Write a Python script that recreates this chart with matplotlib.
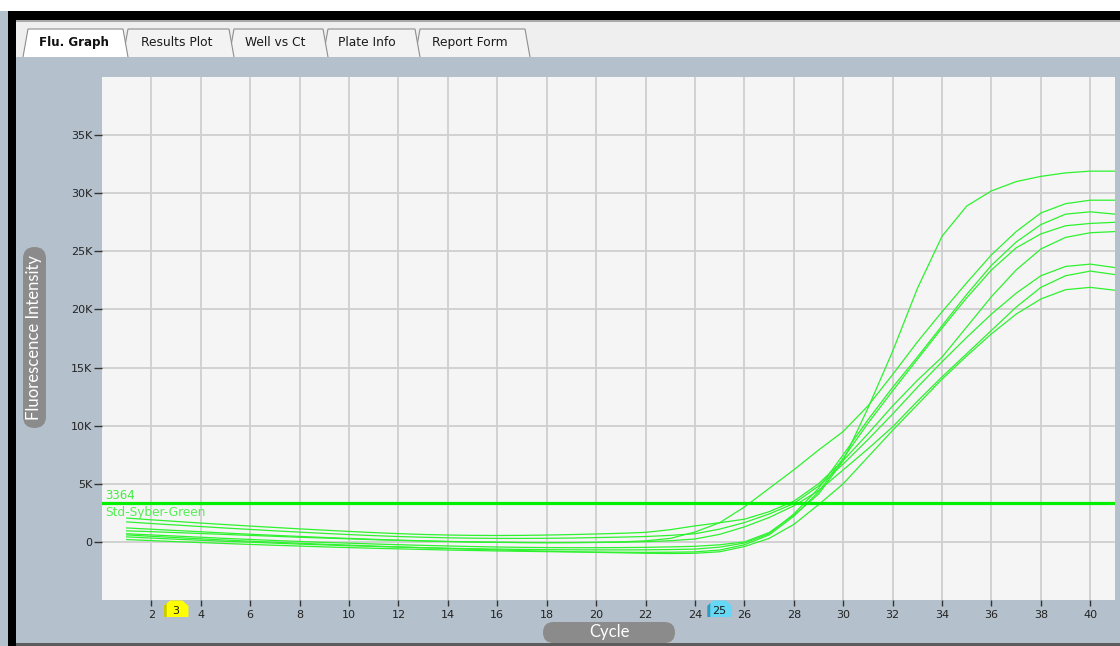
import matplotlib
matplotlib.use("Agg")
import matplotlib.pyplot as plt
from matplotlib.patches import Rectangle, Polygon, FancyBboxPatch
from matplotlib import transforms

W, H = 1120, 646

# ---- amplification data (fluorescence per cycle) ----
cycles = list(range(1, 42))

well_a = [700, 600, 500, 400, 300, 210, 120, 40, -40, -110, -180, -240, -300, -350,
          -400, -440, -470, -490, -500, -500, -490, -470, -430, -380, -250, 0, 800,
          2300, 4100, 7000, 11500, 16400, 21800, 26300, 28900, 30200, 31000, 31450,
          31750, 31900, 31900]
well_b = [950, 880, 800, 720, 640, 560, 480, 400, 330, 260, 190, 130, 80, 30,
          -10, -40, -60, -70, -60, -40, 0, 90, 300, 850, 1650, 3000, 4600,
          6200, 7900, 9500, 11700, 14400, 17200, 19800, 22300, 24700, 26700, 28300,
          29100, 29400, 29400]
well_c = [430, 330, 230, 140, 50, -30, -110, -190, -260, -330, -390, -450, -500, -550,
          -590, -620, -650, -670, -680, -690, -690, -680, -660, -620, -450, -100, 700,
          2400, 4600, 7500, 10500, 13300, 15900, 18600, 21300, 23800, 25800, 27300,
          28200, 28400, 28200]
well_d = [200, 110, 20, -60, -140, -220, -290, -360, -430, -490, -550, -600, -650, -700,
          -740, -780, -810, -840, -860, -880, -890, -900, -890, -860, -700, -250, 600,
          2200, 4300, 7200, 10200, 13000, 15700, 18400, 21000, 23400, 25300, 26500,
          27200, 27400, 27500]
well_e = [2050, 1900, 1760, 1620, 1490, 1360, 1240, 1120, 1010, 900, 800, 710, 640, 590,
          560, 550, 560, 590, 630, 680, 740, 820, 1050, 1376, 1650, 1950, 2600,
          3500, 5000, 7000, 9300, 11700, 13900, 15900, 18500, 21100, 23400, 25200,
          26200, 26600, 26700]
well_f = [1720, 1580, 1450, 1320, 1190, 1070, 950, 840, 730, 630, 540, 460, 400, 350,
          320, 300, 300, 310, 330, 370, 410, 460, 560, 700, 1100, 1660, 2400,
          3300, 4800, 6700, 8800, 11000, 13300, 15500, 17600, 19600, 21400, 22900,
          23700, 23900, 23600]
well_g = [1200, 1090, 980, 870, 760, 660, 560, 470, 380, 300, 220, 150, 90, 40,
          0, -30, -50, -60, -60, -50, -30, 20, 100, 250, 650, 1290, 2100,
          3100, 4400, 6200, 8000, 9900, 12100, 14200, 16200, 18200, 20200, 21900,
          22900, 23300, 23000]
well_h = [600, 480, 370, 260, 160, 60, -30, -120, -200, -280, -360, -430, -500, -570,
          -630, -690, -750, -800, -850, -900, -940, -980, -1000, -980, -850, -400, 300,
          1500, 3200, 5000, 7300, 9600, 11800, 14000, 16000, 17900, 19600, 20900,
          21700, 21900, 21650]

threshold = 3364
threshold_dye = "Std-Syber-Green"

x_ticks = list(range(2, 41, 2))
y_ticks = [0, 5000, 10000, 15000, 20000, 25000, 30000, 35000]
y_tick_labels = ["0", "5K", "10K", "15K", "20K", "25K", "30K", "35K"]

tab_names = ["Flu. Graph", "Results Plot", "Well vs Ct", "Plate Info", "Report Form"]
baseline_start = 3
baseline_end = 25

# ---- colours ----
PANEL = "#b4c0cb"
TABBAR = "#efefef"
PLOT_BG = "#f5f5f5"
GRID = "#cfcfcf"
CURVE = "#2ef22e"
THRESH = "#00f000"
PILL = "#8b8b8b"

fig = plt.figure(figsize=(W / 100, H / 100), dpi=100)
fig.patch.set_facecolor(PANEL)

# pixel-space canvas for the window chrome
bg = fig.add_axes([0, 0, 1, 1], zorder=0)
bg.set_xlim(0, W)
bg.set_ylim(H, 0)
bg.axis("off")

bg.add_patch(Rectangle((0, 0), W, 11, fc="white", ec="none"))
bg.add_patch(Rectangle((8, 11), W - 8, 9, fc="black", ec="none"))
bg.add_patch(Rectangle((8, 11), 8, H - 11, fc="black", ec="none"))
bg.add_patch(Rectangle((16, 20), W - 16, 2, fc="#a9a9a9", ec="none"))
bg.add_patch(Rectangle((16, 22), W - 16, 35, fc=TABBAR, ec="none"))
bg.add_patch(Rectangle((16, 643), W - 16, 3, fc="#5c5c5c", ec="none"))

# tab strip: (left, right) bottom corners of each tab, drawn right to left
tab_spans = [(23, 128), (123, 234), (229, 328), (323, 420), (415, 530)]
tab_text_x = [74, 177, 275, 367, 470]
for i in range(len(tab_names) - 1, 0, -1):
    xl, xr = tab_spans[i]
    bg.add_patch(Polygon([(xl, 57), (xl + 5, 29), (xr - 5, 29), (xr, 57)],
                         closed=False, fc="#f3f3f3", ec="#8e8e8e", lw=0.8))
    bg.text(tab_text_x[i], 42.5, tab_names[i], ha="center", va="center",
            fontsize=8.8, color="#1a1a1a", family="DejaVu Sans")
xl, xr = tab_spans[0]
bg.add_patch(Polygon([(xl, 57), (xl + 5, 29), (xr - 5, 29), (xr, 57)],
                     closed=False, fc="white", ec="#8e8e8e", lw=0.8))
bg.text(tab_text_x[0], 42.5, tab_names[0], ha="center", va="center",
        fontsize=8.6, fontweight="bold", color="#111111", family="DejaVu Sans")

# axis title pills
bg.add_patch(FancyBboxPatch((23, 247), 23, 181,
                            boxstyle="round,pad=0,rounding_size=11.5",
                            fc=PILL, ec="none"))
bg.text(34.5, 337.5, "Fluorescence Intensity", rotation=90, ha="center",
        va="center", color="white", fontsize=12, family="Lato")
bg.add_patch(FancyBboxPatch((543, 622), 132, 21,
                            boxstyle="round,pad=0,rounding_size=10.5",
                            fc=PILL, ec="none"))
bg.text(609, 632, "Cycle", ha="center", va="center", color="white",
        fontsize=12, family="Lato")

# ---- amplification plot ----
ax = fig.add_axes([102 / W, (H - 600) / H, (1115 - 102) / W, (600 - 77) / H],
                  zorder=2)
ax.set_facecolor(PLOT_BG)
ax.set_xlim(0, 41)
ax.set_ylim(-5000, 40000)
for s in ax.spines.values():
    s.set_visible(False)

ax.set_xticks(x_ticks)
ax.set_yticks(y_ticks)
ax.set_yticklabels(y_tick_labels)
ax.grid(True, color=GRID, lw=1.3)
ax.set_axisbelow(True)
ax.tick_params(axis="x", direction="out", length=4, width=1, color="#333333",
               labelsize=8, labelcolor="#222222", pad=3)
ax.tick_params(axis="y", direction="out", length=6, width=1, color="#333333",
               labelsize=8, labelcolor="#222222", pad=1)

for series in [well_a, well_b, well_c, well_d, well_e, well_f, well_g, well_h]:
    ax.plot(cycles, series, color=CURVE, lw=0.9, solid_joinstyle="miter")

ax.axhline(threshold, color=THRESH, lw=2.3, zorder=3)
ax.annotate(str(threshold), xy=(0, threshold), xytext=(3, 7),
            textcoords="offset pixels", ha="left", va="center",
            fontsize=8.5, color="#3fee3f")
ax.annotate(threshold_dye, xy=(0, threshold), xytext=(3, -10),
            textcoords="offset pixels", ha="left", va="center",
            fontsize=8.7, color="#55ee55")

# baseline range markers under the cycle axis
mark_tr = transforms.blended_transform_factory(ax.transData, bg.transData)
for c, face, shade in [(baseline_start, "#ffff00", "#c9c900"),
                       (baseline_end, "#66d8f6", "#3399bb")]:
    bg.add_patch(Polygon([(c - 0.5, 617), (c - 0.5, 606), (c - 0.25, 600.5),
                          (c + 0.25, 600.5), (c + 0.5, 606), (c + 0.5, 617)],
                         closed=True, fc=face, ec="none", transform=mark_tr,
                         clip_on=False))
    bg.add_patch(Polygon([(c - 0.5, 617), (c - 0.5, 606), (c - 0.38, 603),
                          (c - 0.38, 617)], closed=True, fc=shade, ec="none",
                         transform=mark_tr, clip_on=False))
    bg.text(c, 611, str(c), transform=mark_tr, ha="center", va="center",
            fontsize=8, color="#1a1a1a")

fig.savefig("out.png", dpi=100, facecolor=fig.get_facecolor())
